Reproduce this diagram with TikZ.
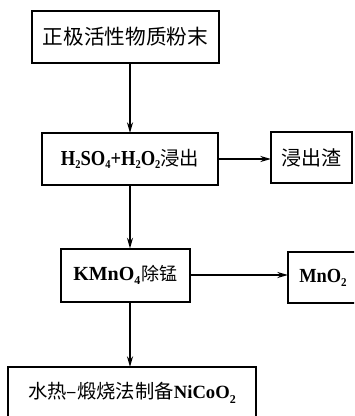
\documentclass[tikz,border=0pt]{standalone}
\usepackage{fontspec}
\usepackage{graphicx}
\setmainfont{Liberation Serif}
\newfontfamily\latA[FakeStretch=0.87]{Liberation Serif}
\newfontfamily\cjk{Noto Sans CJK SC}
\usetikzlibrary{arrows.meta}
\newcommand{\lowsub}[2][1.8pt]{\raisebox{-#1}{\fontsize{9pt}{9pt}\selectfont #2}}
\begin{document}
\begin{tikzpicture}[x=0.75pt,y=-0.75pt,
  box/.style={draw,line width=1.5pt,inner sep=0pt,outer sep=0pt,align=center,
    font=\fontsize{15pt}{18pt}\selectfont},
  arr/.style={line width=1.5pt,-{Stealth[length=8pt,width=4.5pt]}}]
\useasboundingbox (0,0) rectangle (354,416);
\clip (0,0) rectangle (354,416);
\node[box,minimum width=0.75*187pt,minimum height=0.75*52pt] (b1) at (125.5,37) {\fontsize{15.5pt}{18pt}\selectfont\cjk 正极活性物质粉末};
\node[box,minimum width=0.75*176pt,minimum height=0.75*52pt] (b2) at (130,159) {{\latA\bfseries\fontsize{16pt}{18pt}\selectfont H\lowsub{2}SO\lowsub{4}+H\lowsub{2}O\lowsub{2}}{\fontsize{14.5pt}{18pt}\selectfont\cjk 浸出}};
\node[box,minimum width=0.75*81pt,minimum height=0.75*51pt] (b3) at (311.5,157.5) {\cjk 浸出渣};
\node[box,minimum width=0.75*129pt,minimum height=0.75*53pt] (b4) at (125.5,275) {{\bfseries\fontsize{15pt}{18pt}\selectfont KMnO\lowsub[2.5pt]{4}}\hspace{1pt}{\fontsize{13.5pt}{18pt}\selectfont\cjk 除锰}};
\node[box,minimum width=0.75*70pt,minimum height=0.75*51pt] (b5) at (323,277.5) {\scalebox{0.92}[1]{\bfseries\fontsize{15pt}{17pt}\selectfont MnO\lowsub[3pt]{2}}};
\node[box,minimum width=0.75*248pt,minimum height=0.75*52pt] (b6) at (132,393) {{\fontsize{14.5pt}{18pt}\selectfont\cjk 水热–煅烧法制备}{\bfseries\fontsize{14pt}{18pt}\selectfont NiCoO\lowsub[4pt]{2}}};
\draw[arr] (b1.south -| b2.north) -- (b2.north);
\draw[arr] (b2.south) -- (b2.south |- b4.north);
\draw[arr] (b4.south -| b2.south) -- (b2.south |- b6.north);
\draw[arr] (b2.east) -- (b2.east -| b3.west);
\draw[arr] (b4.east) -- (b4.east -| b5.west);
\end{tikzpicture}
\end{document}
